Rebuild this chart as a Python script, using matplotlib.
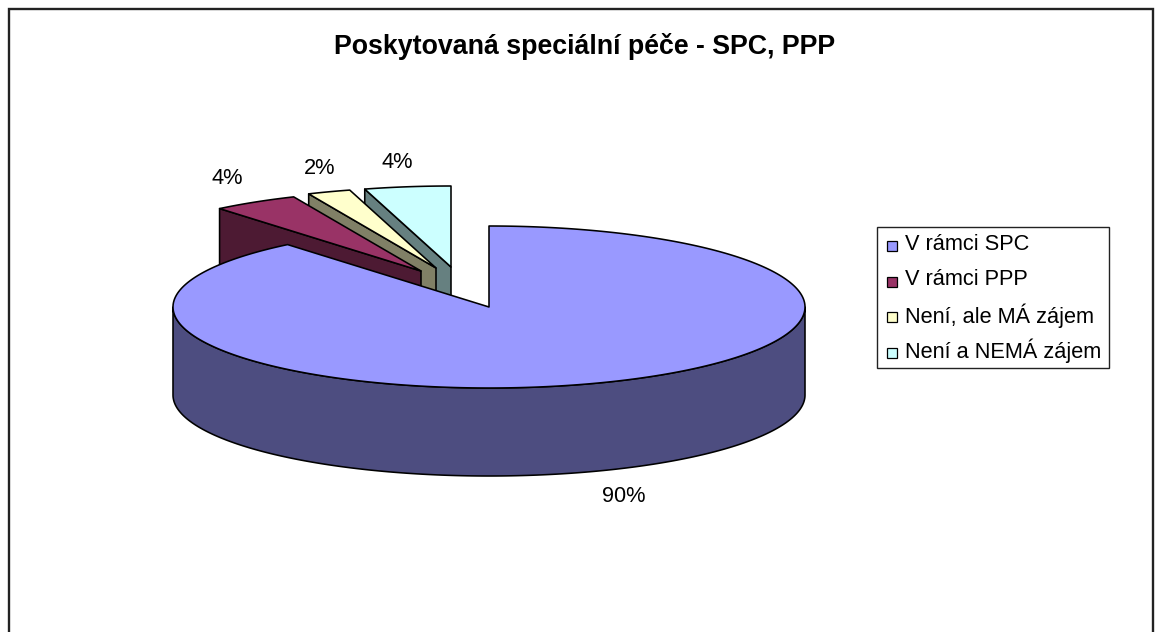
import numpy as np
import matplotlib
matplotlib.use("Agg")
import matplotlib.pyplot as plt
from matplotlib.patches import Polygon, Rectangle

# ---- data ----
title = "Poskytovaná speciální péče - SPC, PPP"
categories = ["V rámci SPC", "V rámci PPP", "Není, ale MÁ zájem", "Není a NEMÁ zájem"]
values = [89.0, 4.4, 2.2, 4.4]
value_labels = ["90%", "4%", "2%", "4%"]
top_colors = ["#9999FF", "#993366", "#FFFFCC", "#CCFFFF"]
side_colors = ["#4D4D80", "#4D1A33", "#808066", "#668080"]

# ---- layout (pixel canvas) ----
W, H = 1161, 632
CX, CY, RX, RY, DEPTH = 489, 307, 316, 81, 88
EXPLODE_DX = [0, 68, 53, 38]
EXPLODE_DY = [0, 36, 39, 40]
LABEL_XY = [(623.5, 496), (227, 179), (320, 168), (397, 163)]
LW = 1.15
FONT = "Liberation Sans"
TEXT_SIZE = 15.7

fig = plt.figure(figsize=(W / 100, H / 100), dpi=100, facecolor="white")
ax = fig.add_axes([0, 0, 1, 1])
ax.set_xlim(0, W)
ax.set_ylim(H, 0)
ax.axis("off")

# chart-area frame
ax.plot([9, 9, 1152.5, 1152.5], [H + 5, 9, 9, H + 5], color="#222222", lw=1.7, zorder=1,
        solid_joinstyle="miter")


def rim(a0, a1, n=120):
    """Ellipse points; angles clockwise from 12 o'clock in degrees."""
    t = np.radians(np.linspace(a0, a1, n))
    return RX * np.sin(t), -RY * np.cos(t)


fractions = np.array(values) / sum(values)
ends = np.cumsum(fractions) * 360
starts = np.r_[0, ends[:-1]]

# exploded slices, back to front: last slice first
for i in [3, 2, 1]:
    cx, cy = CX - EXPLODE_DX[i], CY - EXPLODE_DY[i]
    x, y = rim(starts[i], ends[i], 40)
    x, y = x + cx, y + cy
    # the radial cut face turned to the viewer lies at the slice's start angle
    side = [(x[0], y[0]), (cx, cy), (cx, cy + DEPTH), (x[0], y[0] + DEPTH)]
    ax.add_patch(Polygon(side, closed=True, fc=side_colors[i], ec="black", lw=LW,
                         zorder=2 + (3 - i) * 2, joinstyle="round"))
    top = np.column_stack([np.r_[cx, x], np.r_[cy, y]])
    ax.add_patch(Polygon(top, closed=True, fc=top_colors[i], ec="black", lw=LW,
                         zorder=3 + (3 - i) * 2, joinstyle="round"))

# main slice: outer wall then top
x, y = rim(90, 270, 200)
wall = np.column_stack([np.r_[x, x[::-1]] + CX, np.r_[y, y[::-1] + DEPTH] + CY])
ax.add_patch(Polygon(wall, closed=True, fc=side_colors[0], ec="black", lw=LW, zorder=10, joinstyle="round"))
x, y = rim(starts[0], ends[0], 400)
top = np.column_stack([np.r_[CX, x + CX], np.r_[CY, y + CY]])
ax.add_patch(Polygon(top, closed=True, fc=top_colors[0], ec="black", lw=LW, zorder=11, joinstyle="round"))

# title and value labels
ax.text(584.5, 47, title, ha="center", va="center", fontsize=19.3, fontweight="bold",
        family=FONT, color="black", zorder=20)
for (lx, ly), s in zip(LABEL_XY, value_labels):
    ax.text(lx, ly, s, ha="center", va="center", fontsize=TEXT_SIZE, family=FONT, color="black", zorder=20)

# legend
ax.add_patch(Rectangle((877, 227), 232, 141, fc="white", ec="#222222", lw=1.0, zorder=15))
for i, (c, s) in enumerate(zip(top_colors, categories)):
    yy = 244 + i * 35.7
    ax.add_patch(Rectangle((886.5, yy - 3), 10.5, 10, fc=c, ec="black", lw=0.9, zorder=16))
    ax.text(905, yy, s, ha="left", va="center", fontsize=TEXT_SIZE, family=FONT, color="black", zorder=17)

fig.savefig("out.png", dpi=100, facecolor="white")
